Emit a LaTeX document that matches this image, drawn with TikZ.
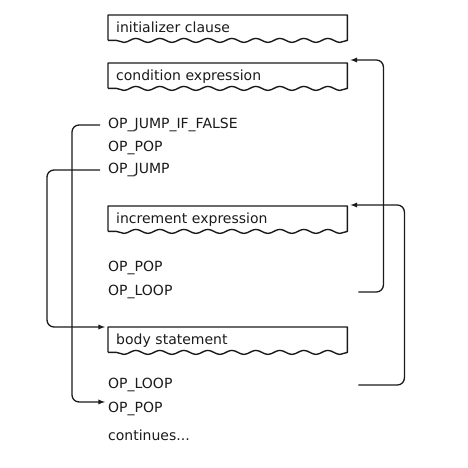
\documentclass[tikz,border=0pt]{standalone}
\usepackage{fontspec}
\setmainfont{DejaVu Sans}
\usetikzlibrary{decorations.pathmorphing}
\definecolor{ink}{HTML}{1A1A1A}

\begin{document}
\begin{tikzpicture}[
    x=1pt, y=-1pt,
    font=\fontsize{14}{16}\selectfont,
    op/.style={anchor=west, inner sep=0pt, text=ink},
    chunk/.style={anchor=north west, inner xsep=8pt, inner ysep=0pt, text=ink,
        text height=10pt, text depth=0pt,
        minimum width=239pt, minimum height=25pt, text width=223pt, align=left},
    wavy/.style={draw=ink, line width=1.4pt, line join=round},
    line/.style={draw=ink, line width=1.3pt, rounded corners=7pt, -latex}
]
\useasboundingbox (0,0) rectangle (467,468);

\node[chunk] (init) at (108,15) {initializer clause};
\node[chunk] (cond) at (108,63) {condition expression};
\node[op] (jif) at (108,125) {OP\_JUMP\_IF\_FALSE};
\node[op] (pop1) at (108,148) {OP\_POP};
\node[op] (jmp) at (108,170) {OP\_JUMP};
\node[chunk] (incr) at (108,206) {increment expression};
\node[op] (pop2) at (108,268) {OP\_POP};
\node[op] (loop1) at (108,292) {OP\_LOOP};
\node[chunk] (body) at (108,327) {body statement};
\node[op] (loop2) at (108,385) {OP\_LOOP};
\node[op] (pop3) at (108,409) {OP\_POP};
\node[op] (cont) at (108,435) {continues...};

% torn-paper outlines round the code chunks
\foreach \n in {init,cond,incr,body}
    \draw[wavy] (\n.south west) -- (\n.north west) -- (\n.north east) -- (\n.south east)
        decorate[decoration={snake, amplitude=2pt, segment length=24pt}] {-- (\n.south west)};

\draw[line] ([xshift=-8]jif.west) -- ++(-28,0) |- ([xshift=-3]pop3.north west);
\draw[line] ([xshift=-8]jmp.west) -- ++(-53,0) |- ([xshift=-3]body.north west);
\draw[line] ([xshift=11]cond.east |- loop1.west) -| ([xshift=36,yshift=3]cond.north east) -- ([xshift=3,yshift=3]cond.north east);
\draw[line] ([xshift=11]body.east |- loop2.west) -| ([xshift=57,yshift=1]incr.north east) -- ([xshift=3,yshift=1]incr.north east);

\end{tikzpicture}
\end{document}
